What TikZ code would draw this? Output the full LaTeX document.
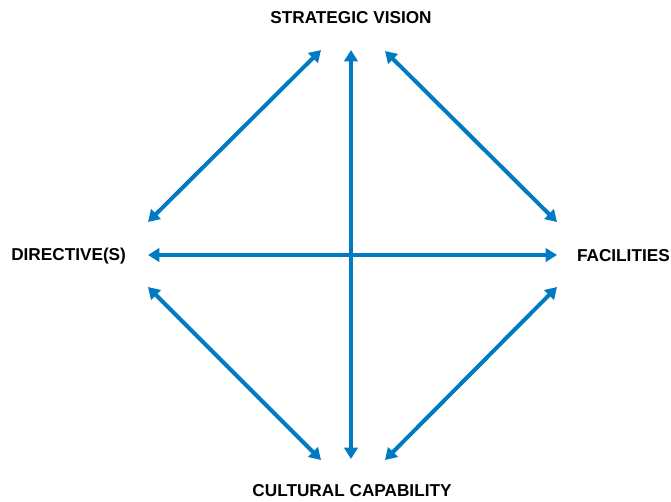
\documentclass[tikz,border=0pt]{standalone}
\usepackage{fontspec}
\setmainfont{Liberation Sans}
\usetikzlibrary{arrows.meta}
\definecolor{linkblue}{RGB}{0,122,194}
\begin{document}
\begin{tikzpicture}[x=0.75pt,y=-0.75pt,
  lbl/.style={font=\fontsize{12.9}{15}\selectfont\bfseries, inner sep=0pt},
  link/.style={draw=linkblue, line width=3pt, {Triangle[length=8.5pt,width=10pt]}-{Triangle[length=8.5pt,width=10pt]}}]
\useasboundingbox (0,0) rectangle (671,501);
\node[lbl] (sv) at (351,18) {STRATEGIC VISION};
\node[lbl,anchor=west] (dir) at (11,256) {DIRECTIVE(S)};
\node[lbl,anchor=east] (fac) at (670,256) {FACILITIES};
\node[lbl] (cc) at (352,491) {CULTURAL CAPABILITY};
\coordinate (vt) at (351,50);
\coordinate (vb) at (351,459);
\coordinate (hl) at (148,255);
\coordinate (hr) at (557,255);
\coordinate (tl1) at (321,50);
\coordinate (tl2) at (148,222);
\coordinate (tr1) at (385,51);
\coordinate (tr2) at (557,222);
\coordinate (bl1) at (148,287);
\coordinate (bl2) at (321,460);
\coordinate (br1) at (557,287);
\coordinate (br2) at (385,460);
\draw[link] (vt) -- (vb);
\draw[link] (hl) -- (hr);
\draw[link] (tl1) -- (tl2);
\draw[link] (tr1) -- (tr2);
\draw[link] (bl1) -- (bl2);
\draw[link] (br1) -- (br2);
\end{tikzpicture}
\end{document}
